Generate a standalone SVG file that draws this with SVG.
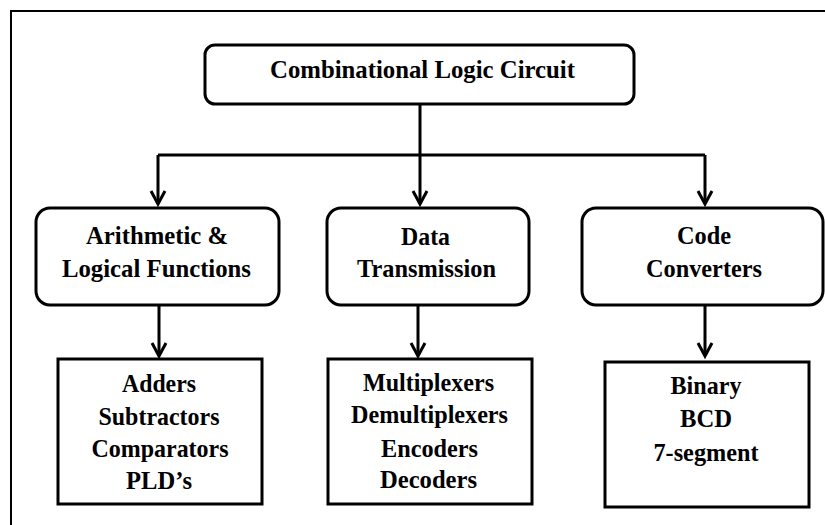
<svg xmlns="http://www.w3.org/2000/svg" width="825" height="525" viewBox="0 0 825 525">
<style>
.box{fill:#fff;stroke:#000;stroke-width:3}
.t{font-family:'Liberation Serif','Times New Roman',serif;font-weight:bold;font-size:25px;text-anchor:middle;fill:#000}
.c{fill:none;stroke:#000;stroke-width:3}
.ah{fill:none;stroke:#000;stroke-width:3;stroke-linejoin:miter}
</style>
<rect x="0" y="0" width="825" height="525" fill="#fff"/>
<path d="M11 530V11H830" fill="none" stroke="#000" stroke-width="2"/>
<g id="connectors">
<path class="c" d="M420 104V155M158 155H705M158 155V203M420 155V203M705 155V203M159 305V355M418 305V355M705 305V355"/>
<path class="ah" d="M151 191L158 204L165 191M413 191L420 204L427 191M698 191L705 204L712 191M152 343L159 356L166 343M411 343L418 356L425 343M698 343L705 356L712 343"/>
</g>
<g id="root"><rect class="box" x="205" y="45" width="429" height="59" rx="10"/><text class="t" x="422.5" y="78" font-size="24" textLength="305" lengthAdjust="spacingAndGlyphs">Combinational  Logic Circuit</text></g>
<g id="arith"><rect class="box" x="36" y="208" width="243" height="97" rx="14"/><text class="t" x="157" y="244" textLength="142" lengthAdjust="spacingAndGlyphs">Arithmetic  &amp;</text><text class="t" x="156.5" y="277" textLength="189" lengthAdjust="spacingAndGlyphs">Logical Functions</text></g>
<g id="data"><rect class="box" x="327" y="208" width="202" height="97" rx="14"/><text class="t" x="425.5" y="245" textLength="49" lengthAdjust="spacingAndGlyphs">Data</text><text class="t" x="426.5" y="277" textLength="139" lengthAdjust="spacingAndGlyphs">Transmission</text></g>
<g id="code"><rect class="box" x="582" y="208" width="241" height="97" rx="14"/><text class="t" x="704" y="244" textLength="54" lengthAdjust="spacingAndGlyphs">Code</text><text class="t" x="704" y="277" textLength="116" lengthAdjust="spacingAndGlyphs">Converters</text></g>
<g id="arith-list"><rect class="box" x="58" y="359" width="204" height="145"/><text class="t" x="159" y="392" textLength="74" lengthAdjust="spacingAndGlyphs">Adders</text><text class="t" x="159" y="425" textLength="121" lengthAdjust="spacingAndGlyphs">Subtractors</text><text class="t" x="160" y="457" textLength="137" lengthAdjust="spacingAndGlyphs">Comparators</text><text class="t" x="159" y="489" textLength="66" lengthAdjust="spacingAndGlyphs">PLD’s</text></g>
<g id="data-list"><rect class="box" x="328" y="359" width="204" height="145"/><text class="t" x="428.5" y="391" textLength="131" lengthAdjust="spacingAndGlyphs">Multiplexers</text><text class="t" x="429.5" y="423" textLength="157" lengthAdjust="spacingAndGlyphs">Demultiplexers</text><text class="t" x="429.5" y="457" textLength="97" lengthAdjust="spacingAndGlyphs">Encoders</text><text class="t" x="428.5" y="488" textLength="97" lengthAdjust="spacingAndGlyphs">Decoders</text></g>
<g id="code-list"><rect class="box" x="605" y="362" width="204" height="145"/><text class="t" x="706" y="394" textLength="71" lengthAdjust="spacingAndGlyphs">Binary</text><text class="t" x="706" y="427" textLength="52" lengthAdjust="spacingAndGlyphs">BCD</text><text class="t" x="706" y="461" textLength="105" lengthAdjust="spacingAndGlyphs">7-segment</text></g>
</svg>
